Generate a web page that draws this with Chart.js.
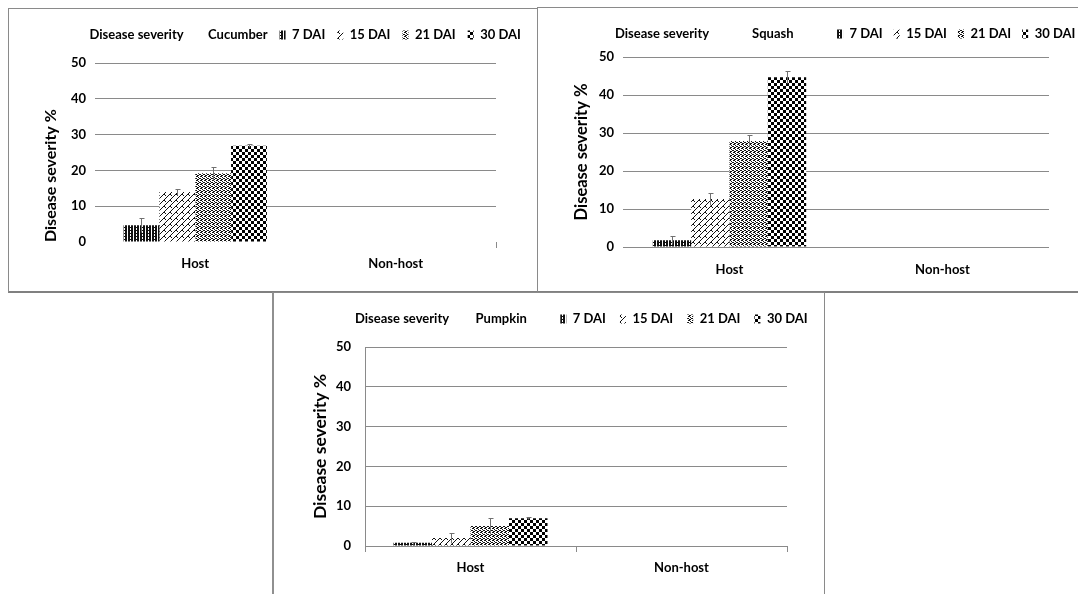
<!DOCTYPE html>
<html>
<head>
<meta charset="utf-8">
<script src="https://cdn.jsdelivr.net/npm/chart.js@4.4.1/dist/chart.umd.min.js"></script>
<style>
  html, body { margin: 0; padding: 0; background: #fff; }
  body { width: 1078px; height: 594px; position: relative; overflow: hidden; }
  canvas { position: absolute; }
  .frame { position: absolute; box-sizing: border-box; pointer-events: none; }
</style>
</head>
<body>
<div class="frame" style="left:8px;top:8px;width:530px;height:285px;border:1px solid #8a8a8a;border-bottom:2px solid #808080;"></div>
<div class="frame" style="left:537px;top:7px;width:545px;height:286px;border:1px solid #8a8a8a;border-bottom:2px solid #808080;"></div>
<div class="frame" style="left:272px;top:292px;width:553px;height:310px;border:1px solid #8a8a8a;border-left:2px solid #909090;"></div>
<canvas id="c1" width="529" height="284" style="left:8px;top:8px;"></canvas>
<canvas id="c2" width="541" height="284" style="left:537px;top:8px;"></canvas>
<canvas id="c3" width="552" height="302" style="left:272px;top:292px;"></canvas>
<script>
// ---- data ----
const categories = ['Host', 'Non-host'];
const seriesLabels = ['7 DAI', '15 DAI', '21 DAI', '30 DAI'];
const legendTitle = 'Disease severity';
const axisTitle = 'Disease severity %';
const yTicks = [0, 10, 20, 30, 40, 50];

const cucumberName = 'Cucumber';
const cucumberHost = [4.7, 14.0, 19.2, 26.9];
const cucumberHostErr = [2.0, 0.8, 1.8, 0.4];
const cucumberNonHost = [0, 0, 0, 0];

const squashName = 'Squash';
const squashHost = [1.8, 12.6, 27.9, 44.7];
const squashHostErr = [1.1, 1.5, 1.6, 1.6];
const squashNonHost = [0, 0, 0, 0];

const pumpkinName = 'Pumpkin';
const pumpkinHost = [0.8, 2.0, 5.0, 7.0];
const pumpkinHostErr = [0.3, 1.2, 2.0, 0.3];
const pumpkinNonHost = [0, 0, 0, 0];

// ---- patterns ----
function makePattern(ctx, kind) {
  const c = document.createElement('canvas');
  const p = c.getContext('2d');
  let n;
  if (kind === 0) { // dark vertical stripes
    n = 6; c.width = n; c.height = n;
    p.fillStyle = '#fff'; p.fillRect(0, 0, n, n);
    p.fillStyle = '#111';
    for (let x = 0; x < n; x++) for (let y = 0; y < n; y++) {
      if (x % 3 !== 2 || (y % 3 === 0 && x === 2)) p.fillRect(x, y, 1, 1);
    }
  } else if (kind === 1) { // diagonal zigzag hatch
    n = 6; c.width = n; c.height = n;
    p.fillStyle = '#fff'; p.fillRect(0, 0, n, n);
    p.fillStyle = '#111';
    for (let i = 0; i < n; i++) p.fillRect(i, n - 1 - i, 1, 1);
    p.fillRect(0, 0, 1, 1); p.fillRect(1, 1, 1, 1);
  } else if (kind === 2) { // speckle
    const rows = ['1100', '0010', '1001', '0110'];
    n = 4; c.width = n; c.height = n;
    p.fillStyle = '#fff'; p.fillRect(0, 0, n, n);
    p.fillStyle = '#111';
    rows.forEach((r, y) => { for (let x = 0; x < n; x++) if (r[x] === '1') p.fillRect(x, y, 1, 1); });
  } else { // checkerboard
    n = 6; c.width = n; c.height = n;
    p.fillStyle = '#fff'; p.fillRect(0, 0, n, n);
    p.fillStyle = '#000';
    p.fillRect(0, 0, 3, 3); p.fillRect(3, 3, 3, 3);
  }
  return ctx.createPattern(c, 'repeat');
}

// ---- plugins ----
const errorBars = {
  id: 'errorBars',
  afterDatasetsDraw(chart) {
    const ctx = chart.ctx;
    const ys = chart.scales.y;
    ctx.save();
    ctx.strokeStyle = '#707070';
    ctx.lineWidth = 1;
    chart.data.datasets.forEach((ds, i) => {
      if (!ds.errors) return;
      const meta = chart.getDatasetMeta(i);
      meta.data.forEach((el, j) => {
        const e = ds.errors[j];
        if (!e) return;
        const x = Math.round(el.x) + 0.5;
        const yTop = Math.round(ys.getPixelForValue(ds.data[j] + e)) + 0.5;
        const yBot = Math.round(ys.getPixelForValue(Math.max(ds.data[j] - e, 0))) + 0.5;
        ctx.beginPath();
        ctx.moveTo(x, yBot); ctx.lineTo(x, yTop);
        ctx.moveTo(x - 2, yTop); ctx.lineTo(x + 3, yTop);
        ctx.stroke();
      });
    });
    ctx.restore();
  }
};

const legendPlace = {
  id: 'legendPlace',
  afterLayout(chart, args, opts) {
    const lg = chart.legend;
    if (!lg || opts.x === undefined) return;
    const w = lg.width, h = lg.height;
    lg.left = opts.x; lg.right = opts.x + w + 400;
    lg.top = opts.y; lg.bottom = opts.y + h;
  }
};

const FONT = 'Lato, "Open Sans", "DejaVu Sans", sans-serif';
const EN = '\u2002';

function buildChart(id, crop, host, hostErr, nonHost, L) {
  const canvas = document.getElementById(id);
  const ctx = canvas.getContext('2d');
  const datasets = seriesLabels.map((lab, i) => ({
    label: lab,
    data: [host[i], nonHost[i]],
    errors: [hostErr[i], 0],
    backgroundColor: makePattern(ctx, i),
    borderWidth: 0,
    barPercentage: 1.0,
    categoryPercentage: L.catPct
  }));
  return new Chart(ctx, {
    type: 'bar',
    data: { labels: categories, datasets },
    plugins: [errorBars, legendPlace],
    options: {
      responsive: false,
      animation: false,
      devicePixelRatio: 1,
      layout: { padding: { left: L.padL, right: L.padR, top: L.padT, bottom: 0 } },
      plugins: {
        tooltip: { enabled: false },
        legendPlace: { x: L.legX, y: L.legY },
        legend: {
          display: true,
          position: 'top',
          align: 'start',
          maxHeight: 35,
          labels: {
            boxWidth: 6,
            boxHeight: 9,
            padding: L.legPad,
            color: '#000',
            font: { family: FONT, size: 13, weight: 'bold' },
            generateLabels(chart) {
              const items = [legendTitle, crop].map((t, k) => ({
                text: t + EN.repeat(L.gaps[k]), fillStyle: 'rgba(0,0,0,0)', strokeStyle: 'rgba(0,0,0,0)',
                lineWidth: 0, hidden: false, fontColor: '#000'
              }));
              chart.data.datasets.forEach((ds, i) => items.push({
                text: ds.label, fillStyle: ds.backgroundColor, strokeStyle: 'rgba(0,0,0,0)',
                lineWidth: 0, hidden: false, datasetIndex: i, fontColor: '#000'
              }));
              return items;
            }
          }
        }
      },
      scales: {
        x: {
          afterFit(s) { s.height = L.xH; },
          grid: {
            display: L.xTicks !== 'none',
            drawOnChartArea: false,
            drawTicks: true,
            tickLength: 6,
            offset: true,
            color: (c) => (L.xTicks === 'all' || c.type !== 'tick') ? '#8a8a8a' : 'rgba(0,0,0,0)'
          },
          border: { display: L.xBorder, color: '#8a8a8a' },
          ticks: {
            color: '#000',
            padding: L.xPad,
            font: { family: FONT, size: 13, weight: 'bold' }
          }
        },
        y: {
          min: 0, max: 50,
          afterFit(s) { s.width = L.yW; },
          afterBuildTicks(s) { s.ticks = yTicks.map(v => ({ value: v })); },
          grid: {
            drawTicks: false,
            color: (c) => (c.tick && c.tick.value === 0 && !L.zeroLine) ? 'rgba(0,0,0,0)' : '#8a8a8a'
          },
          border: { display: L.yBorder, color: '#8a8a8a' },
          ticks: {
            color: '#000',
            padding: L.yPad,
            font: { family: FONT, size: 13, weight: 'bold' }
          },
          title: {
            display: true,
            text: axisTitle,
            align: L.titleAlign,
            color: '#000',
            padding: { top: L.titlePad, bottom: 0 },
            font: { family: FONT, size: L.titleSize, weight: 'bold' }
          }
        }
      }
    }
  });
}

buildChart('c1', cucumberName, cucumberHost, cucumberHostErr, cucumberNonHost, {
  catPct: 0.715, padL: 30, padR: 41, padT: 20, legPad: 12, legX: 57, legY: 8.5, gaps: [0, 0],
  xH: 50, xPad: 8, xTicks: 'last', xBorder: false, yW: 57, yPad: 9, yBorder: false,
  zeroLine: false, titlePad: 3.4, titleSize: 16, titleAlign: 'start'
});
buildChart('c2', squashName, squashHost, squashHostErr, squashNonHost, {
  catPct: 0.72, padL: 30, padR: 29, padT: 14, legPad: 11, legX: 54.5, legY: 8.5, gaps: [3, 5],
  xH: 45, xPad: 9, xTicks: 'none', xBorder: false, yW: 56, yPad: 9, yBorder: false,
  zeroLine: true, titlePad: 4.4, titleSize: 16.5, titleAlign: 'center'
});
buildChart('c3', pumpkinName, pumpkinHost, pumpkinHostErr, pumpkinNonHost, {
  catPct: 0.73, padL: 30, padR: 37, padT: 20, legPad: 14, legX: 56.5, legY: 6.5, gaps: [0, 3],
  xH: 48, xPad: 8, xTicks: 'all', xBorder: true, yW: 63, yPad: 14, yBorder: true,
  zeroLine: true, titlePad: 7.5, titleSize: 17.5, titleAlign: 'center'
});
</script>
</body>
</html>
